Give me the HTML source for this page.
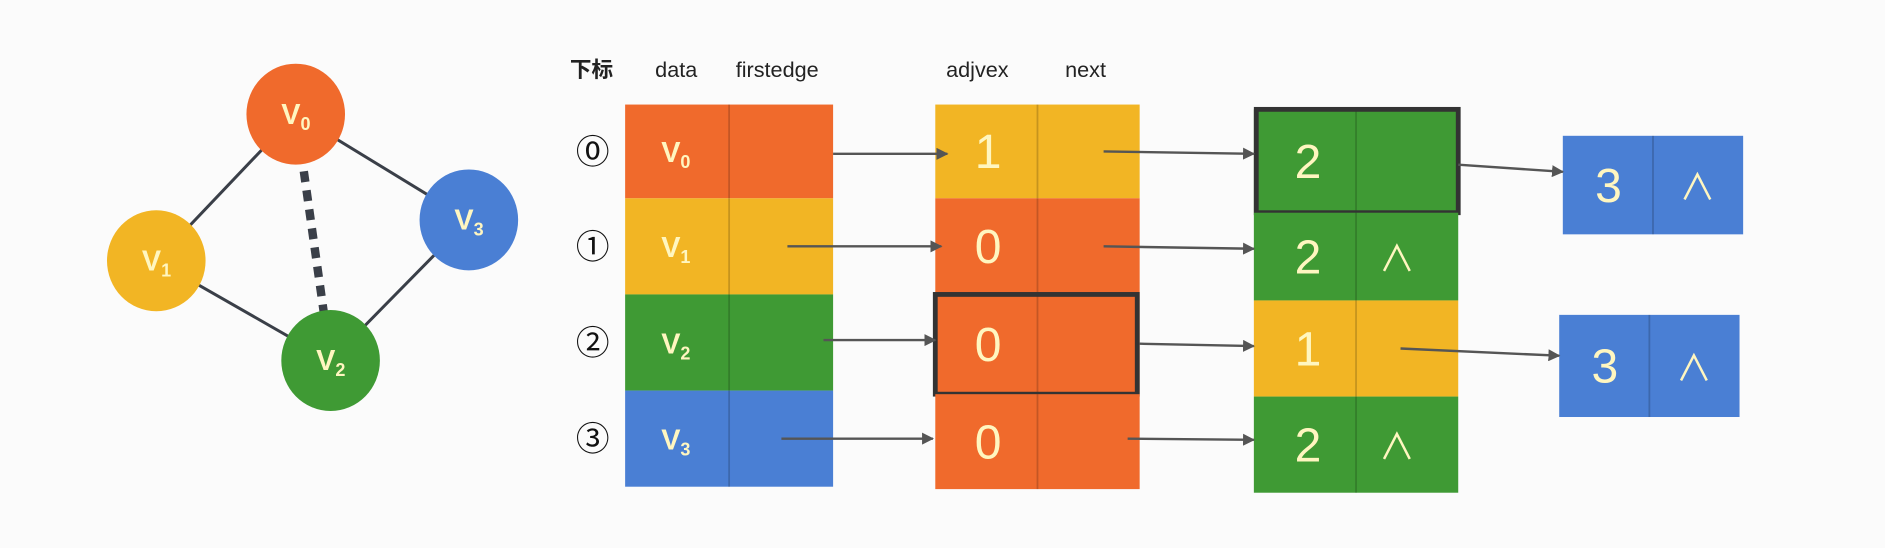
<!DOCTYPE html>
<html><head><meta charset="utf-8"><style>
html,body{margin:0;padding:0;background:#fbfbfb;}
svg{display:block;}
text{font-family:"Liberation Sans","Noto Sans CJK SC",sans-serif;}
</style></head><body>
<svg id="fig" width="1885" height="548" viewBox="0 0 1568 456" preserveAspectRatio="none" xmlns="http://www.w3.org/2000/svg">
<defs><marker id="ah" markerWidth="10" markerHeight="10" refX="9" refY="5" orient="auto" markerUnits="userSpaceOnUse"><path d="M0,0 L10,5 L0,10 z" fill="#555"/></marker></defs>
<g id="graph"></g>
<g id="tables"></g>
</svg>
<script>
const C={o:'#f06a2c',y:'#f2b524',g:'#3f9a34',b:'#4a7fd4'};
const nodeLabels=['0','1','2','3'];
const nodeColors=['o','y','g','b'];
const nodePos=[[246,95],[130,217],[275,300],[390,183]];
const edges=[[0,1,false],[0,3,false],[1,2,false],[2,3,false],[0,2,true]];
const headers=[['下标',474,58,true],['data',545,58,false],['firstedge',612,58,false],['adjvex',787,58,false],['next',886,58,false]];
const rowY=[87,165,245,325,405];
const circled=['⓪','①','②','③'];
const col2=[['1','y',false],['0','o',false],['0','o',true],['0','o',false]];
const col3=[['2','g',true,'',91,177],['2','g',false,'∧',177,250],['1','y',false,'',250,330],['2','g',false,'∧',330,410]];
const col4=[['3','∧',1300,113,195],['3','∧',1297,262,347]];
const NS='http://www.w3.org/2000/svg';
function el(p,t,a,txt){const e=document.createElementNS(NS,t);for(const k in a)e.setAttribute(k,a[k]);if(txt!==undefined)e.textContent=txt;p.appendChild(e);return e;}
const G=document.getElementById('graph'),T=document.getElementById('tables');
edges.forEach(([a,b,d])=>{const l=el(G,'line',{x1:nodePos[a][0],y1:nodePos[a][1],x2:nodePos[b][0],y2:nodePos[b][1],stroke:'#3a3f48','stroke-width':d?7:2.5,'stroke-dasharray':d?'9 7':'none'});

});
nodePos.forEach((p,i)=>{const c=el(G,'ellipse',{cx:p[0],cy:p[1],rx:41,ry:42,fill:C[nodeColors[i]]});


const t=el(G,'text',{x:p[0]-12,y:p[1]+8,fill:'#fff6c0','font-size':24,'font-weight':'bold'},'V');
el(t,'tspan',{'font-size':15,dy:5},nodeLabels[i]);});
headers.forEach(h=>{const t=el(T,'text',{x:h[1],y:h[2]+6,'font-size':18,fill:'#222','font-weight':h[3]?'bold':'normal'},h[0]);

});
function cell(x,y,w,h,col){el(T,'rect',{x:x,y:y,width:w,height:h,fill:C[col]});el(T,'line',{x1:x+w/2,y1:y,x2:x+w/2,y2:y+h,stroke:'rgba(0,0,0,0.18)','stroke-width':1.5});}
function arrow(x1,y1,x2,y2){const a=el(T,'line',{x1:x1,y1:y1,x2:x2,y2:y2,stroke:'#555','stroke-width':2,'marker-end':'url(#ah)'});

}
for(let i=0;i<4;i++){
 const y0=rowY[i],h=rowY[i+1]-rowY[i];
 el(T,'text',{x:493,y:y0+h/2+10,'font-size':28,fill:'#111','text-anchor':'middle'},circled[i]);
 cell(520,y0,173,h,nodeColors[i]);
 const t=el(T,'text',{x:550,y:y0+h/2+9,fill:'#fff6c0','font-size':24,'font-weight':'bold'},'V');
 el(t,'tspan',{'font-size':15,dy:5},nodeLabels[i]);
 const r=col2[i];const y2=[87,165,245,328,407][i],h2=[87,165,245,328,407][i+1]-y2;
 cell(778,y2,170,h2,r[1]);
 if(r[2])el(T,'rect',{x:778,y:y2,width:168,height:h2,fill:'none',stroke:'#333','stroke-width':4});
 el(T,'text',{x:822,y:y2+h2/2+14,'font-size':40,fill:'#fff6c0','text-anchor':'middle'},r[0]);
 const q=col3[i],h3=q[5]-q[4];
 cell(1043,q[4],170,h3,q[1]);
 if(q[2])el(T,'rect',{x:1045,y:q[4],width:168,height:h3,fill:'none',stroke:'#333','stroke-width':4});
 el(T,'text',{x:1088,y:q[4]+h3/2+14,'font-size':40,fill:'#fff6c0','text-anchor':'middle'},q[0]);
 if(q[3])el(T,'text',{x:1162,y:q[4]+h3/2+12,'font-size':30,fill:'#fff6c0','text-anchor':'middle'},q[3]);
}
col4.forEach(b=>{cell(b[2],b[3],150,b[4]-b[3],'b');
 el(T,'text',{x:b[2]+38,y:(b[3]+b[4])/2+14,'font-size':40,fill:'#fff6c0','text-anchor':'middle'},b[0]);
 el(T,'text',{x:b[2]+112,y:(b[3]+b[4])/2+12,'font-size':30,fill:'#fff6c0','text-anchor':'middle'},b[1]);});
arrow(693,128,788,128);arrow(655,205,783,205);arrow(685,283,778,283);arrow(650,365,776,365);
arrow(918,126,1043,128);arrow(918,205,1043,207);arrow(948,286,1043,288);arrow(938,365,1043,366);
arrow(1213,137,1300,143);arrow(1165,290,1297,296);
</script>
</body></html>
